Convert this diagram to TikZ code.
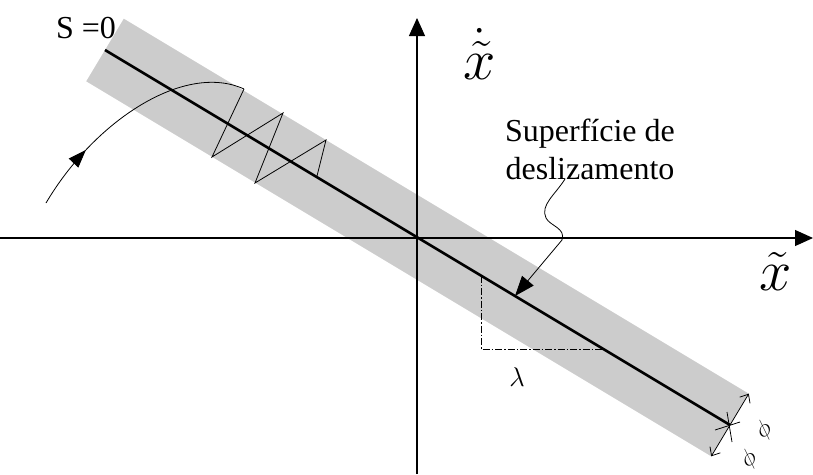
\RequirePackage{fix-cm}
\documentclass[tikz,border=0pt]{standalone}
\usepackage{fontspec}
\setmainfont{Liberation Serif}
\usetikzlibrary{arrows.meta, calc, decorations.markings}
\definecolor{bandgray}{RGB}{204,204,204}
\tikzset{
  axis/.style     = {line width=1.1pt, -{Triangle[length=18pt,width=16pt]}},
  surface/.style  = {line width=2.6pt},
  band/.style     = {fill=bandgray, draw=none},
  traj/.style     = {line width=0.8pt},
  leader/.style   = {line width=0.8pt, -{Triangle[length=20pt,width=15pt]}},
  helper/.style   = {line width=0.8pt, dash pattern=on 7pt off 2pt on 1.5pt off 2pt},
  dimarrow/.style = {line width=0.8pt, -{Straight Barb[length=7pt,width=12pt]}},
  lbl/.style      = {inner sep=0pt, font=\fontsize{32}{38}\selectfont},
  axlbl/.style    = {inner sep=0pt, font=\fontsize{58}{60}\selectfont},
  small/.style    = {inner sep=0pt, font=\fontsize{27}{30}\selectfont},
  width/.style    = {inner sep=0pt, rotate=40, font=\fontsize{24}{26}\selectfont},
}

\begin{document}
\begin{tikzpicture}[x=1pt, y=-1pt]
  \useasboundingbox (0,0) rectangle (813,474);
  \coordinate (O) at (417,238);
  \coordinate (A) at (105,50);
  \coordinate (B) at (730,425);

  % boundary layer round the surface
  \fill[band] ($(A)!36.5pt!90:(B)$) -- ($(A)!36.5pt!-90:(B)$)
    -- ($(B)!36.5pt!90:(A)$) -- ($(B)!36.5pt!-90:(A)$) -- cycle;

  % axes
  \coordinate (ybot) at (417,474);
  \coordinate (ytop) at (417,18);
  \coordinate (xl) at (0,238);
  \coordinate (xr) at (813,238);
  \draw[axis] (ybot) -- (ytop);
  \draw[axis] (xl) -- (xr);
  \node[axlbl] (xdot) at (480,54) {$\dot{\tilde{x}}$};
  \node[axlbl] (xt) at (776,271) {$\tilde{x}$};

  % sliding surface
  \draw[surface] (A) -- (B);
  \node[lbl] (s0) at (86,28) {S =0};

  % trajectory
  \coordinate (t0) at (46,203);
  \coordinate (t1) at (244,89);
  \coordinate (t2) at (212,157);
  \coordinate (t3) at (283,113);
  \coordinate (t4) at (255,183);
  \coordinate (t5) at (326,140);
  \coordinate (t6) at (317,176);
  \draw[traj, postaction={decorate}, decoration={markings,
      mark=at position 0.27 with {\arrow{Triangle[length=18pt,width=13pt]}}}]
    (t0) .. controls (95,120) and (185,62) .. (t1);
  \draw[traj] (t1) -- (t2) -- (t3) -- (t4) -- (t5) -- (t6);

  % label and leader
  \node[lbl, align=center] (sup) at (590,149) {Superfície de\\deslizamento};
  \coordinate (lead) at (565,179);
  \coordinate (hit) at (515,296);
  \draw[leader] (lead) .. controls (555,195) and (540,205) .. (546,218)
    .. controls (550,226) and (566,228) .. (562,240) -- (hit);

  % slope
  \coordinate (P) at (481,275.6);
  \coordinate (Q) at (481,349);
  \coordinate (R) at (603,349);
  \draw[helper] (P) -- (Q) -- (R);
  \node[small] (lam) at (517,377) {$\lambda$};

  % band width
  \coordinate (bu) at ($(B)!36.5pt!-90:(A)$);
  \coordinate (bl) at ($(B)!36.5pt!90:(A)$);
  \draw[dimarrow] (B) -- (bu);
  \draw[dimarrow] (B) -- (bl);
  \draw[traj] ($(B)+(-15,5)$) -- ($(B)+(10,-3)$);
  \draw[traj] ($(B)+(-3,-13)$) -- ($(B)+(2,17)$);
  \node[width] (phu) at (764,430) {$\phi$};
  \node[width] (phl) at (749,459) {$\phi$};
\end{tikzpicture}
\end{document}
